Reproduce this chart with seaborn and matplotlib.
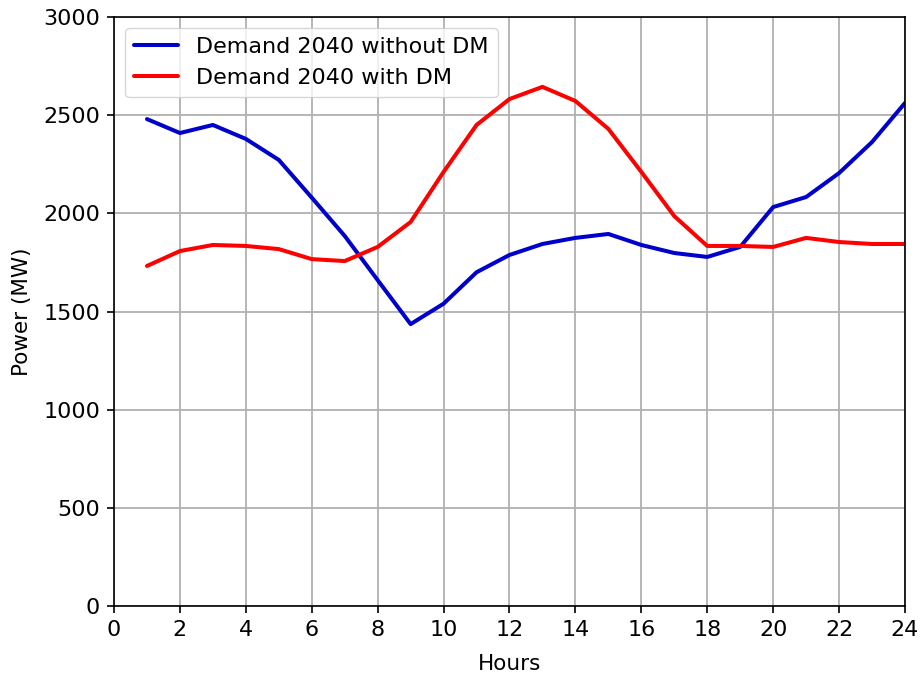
import matplotlib
matplotlib.use("Agg")
import matplotlib.pyplot as plt
import seaborn as sns
import pandas as pd

hours = list(range(1, 25))
demand_without_dm = [2480, 2409, 2450, 2379, 2272, 2080, 1885, 1660, 1436, 1540, 1700, 1788,
                     1844, 1875, 1895, 1839, 1798, 1778, 1829, 2032, 2083, 2205, 2363, 2562]
demand_with_dm = [1732, 1808, 1839, 1834, 1818, 1767, 1757, 1829, 1956, 2211, 2450, 2582,
                  2644, 2572, 2430, 2211, 1986, 1834, 1834, 1829, 1875, 1854, 1844, 1844]
labels = ["Demand 2040 without DM", "Demand 2040 with DM"]
colors = ["#0000cc", "#ff0000"]

df = pd.DataFrame({
    "Hours": hours * 2,
    "Power": demand_without_dm + demand_with_dm,
    "Series": [labels[0]] * 24 + [labels[1]] * 24,
})

sns.set_style("white")
plt.rcParams['font.family'] = ['DejaVu Sans']
plt.rcParams['text.color'] = 'black'
plt.rcParams['axes.labelcolor'] = 'black'
plt.rcParams['xtick.color'] = 'black'
plt.rcParams['ytick.color'] = 'black'

fig = plt.figure(figsize=(9.21, 6.78), dpi=100)
ax = fig.add_axes([0.1238, 0.106, 0.8588, 0.869])
sns.lineplot(data=df, x="Hours", y="Power", hue="Series", palette=colors,
             linewidth=2.9, ax=ax)

ax.set_xlim(0, 24)
ax.set_ylim(0, 3000)
ax.set_xticks(range(0, 25, 2))
ax.set_yticks(range(0, 3001, 500))
ax.grid(True, color="#b0b0b0", linewidth=1.3)
ax.set_axisbelow(True)
ax.tick_params(axis="both", labelsize=16, length=5, width=1.2, direction="out",
               bottom=True, left=True, pad=5, colors="black")
ax.set_xlabel("Hours", fontsize=15.5, color="black", labelpad=10)
ax.set_ylabel("Power (MW)", fontsize=15.5, color="black", labelpad=8)
for s in ax.spines.values():
    s.set_color("black")
    s.set_linewidth(1.2)

leg = ax.legend(loc="upper left", fontsize=16, title=None, frameon=True,
                fancybox=True, framealpha=0.8, edgecolor="#cccccc",
                handlelength=2.0)
for t in leg.get_texts():
    t.set_color("black")

fig.savefig("out.png", dpi=100)
